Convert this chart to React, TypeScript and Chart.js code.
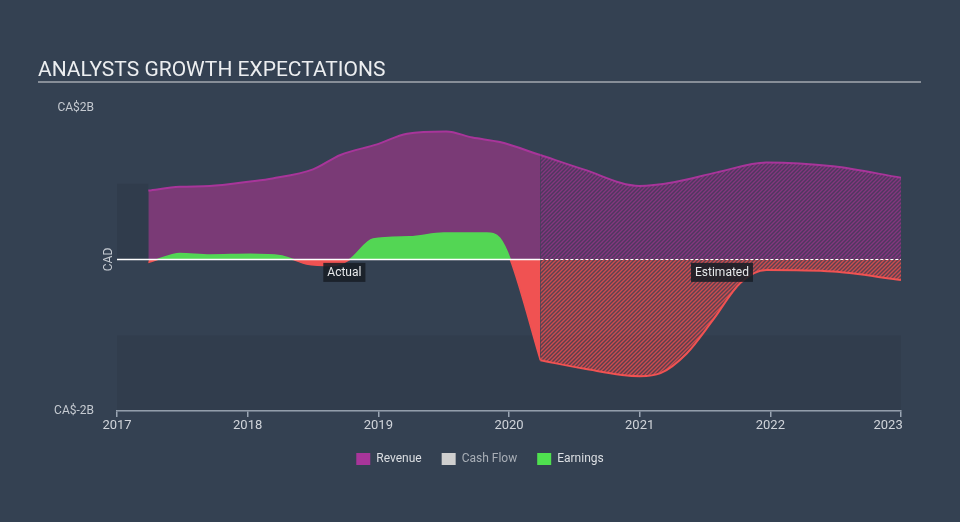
import React, { useEffect, useRef } from 'react';
import { Chart, registerables } from 'chart.js';

Chart.register(...registerables);

// ---- data (CAD billions, x = fractional year) ----
const revenueActualX = [2017.24, 2017.48, 2017.71, 2018.02, 2018.19, 2018.5, 2018.71, 2018.99, 2019.22, 2019.52, 2019.72, 2019.93, 2020.24];
const revenueActual = [0.91, 0.96, 0.97, 1.03, 1.07, 1.19, 1.38, 1.52, 1.66, 1.69, 1.61, 1.55, 1.38];
const revenueEstX = [2020.24, 2020.57, 2021.0, 2021.26, 2021.59, 2021.97, 2022.48, 2023.0];
const revenueEst = [1.38, 1.19, 0.97, 1.02, 1.15, 1.28, 1.23, 1.08];
const earningsActualX = [2017.24, 2017.31, 2017.48, 2017.71, 2018.02, 2018.25, 2018.35, 2018.45, 2018.65, 2018.78, 2018.96, 2019.24, 2019.5, 2019.83, 2019.93, 2020.01, 2020.24];
const earningsActual = [-0.04, 0, 0.08, 0.06, 0.07, 0.05, 0, -0.06, -0.08, 0, 0.27, 0.3, 0.35, 0.35, 0.28, 0, -1.33];
const earningsEstX = [2020.24, 2020.57, 2021.0, 2021.16, 2021.36, 2021.56, 2021.77, 2021.97, 2022.48, 2023.0];
const earningsEst = [-1.33, -1.44, -1.54, -1.5, -1.24, -0.8, -0.31, -0.14, -0.16, -0.27];
const xTicks = [2017, 2018, 2019, 2020, 2021, 2022, 2023];
const yTicks = [-2, 0, 2];
const forecastStart = 2020.24;
const periodLabels = [
  { text: 'Actual', x: 2018.74, y: -0.17 },
  { text: 'Estimated', x: 2021.63, y: -0.17 },
];
const legendItems = [
  { text: 'Revenue', color: '#a8359a', textColor: '#dcdfe3' },
  { text: 'Cash Flow', color: '#cfcfcf', textColor: '#a9afb7' },
  { text: 'Earnings', color: '#4fe04f', textColor: '#dcdfe3' },
];
const title = 'ANALYSTS GROWTH EXPECTATIONS';

const BG = '#344152';
const GREEN = '#53d654';
const RED = '#f05252';
const PURPLE_LINE = '#a8359a';
const PURPLE_FILL = '#7a3a76';

function makeHatch(ctx: CanvasRenderingContext2D, base: string, stripe: string) {
  const c = document.createElement('canvas');
  c.width = 4;
  c.height = 4;
  const g = c.getContext('2d')!;
  g.fillStyle = base;
  g.fillRect(0, 0, 4, 4);
  g.strokeStyle = stripe;
  g.lineWidth = 1.4;
  g.beginPath();
  g.moveTo(-1, 5); g.lineTo(5, -1);
  g.moveTo(-1, 1); g.lineTo(1, -1);
  g.moveTo(3, 5); g.lineTo(5, 3);
  g.stroke();
  return ctx.createPattern(c, 'repeat')!;
}

const pts = (xs: number[], ys: number[]) => xs.map((x, i) => ({ x, y: ys[i] }));

export default function App() {
  const ref = useRef<HTMLCanvasElement | null>(null);
  useEffect(() => {
    const canvas = ref.current!;
    const ctx = canvas.getContext('2d')!;
    Chart.defaults.font.family = 'Roboto, "Open Sans", sans-serif';
    const revHatch = makeHatch(ctx, 'rgba(100,50,105,0.55)', 'rgba(135,55,128,0.95)');
    const earnHatch = makeHatch(ctx, 'rgba(190,70,75,0.3)', 'rgba(225,78,80,0.85)');

    const bgPlugin = {
      id: 'bgPlugin',
      beforeDraw(chart: any) {
        const c = chart.ctx;
        c.save();
        c.fillStyle = BG;
        c.fillRect(0, 0, chart.width, chart.height);
        c.restore();
      },
      beforeDatasetsDraw(chart: any) {
        const c = chart.ctx;
        const xs = chart.scales.x;
        const ys = chart.scales.y;
        c.save();
        c.fillStyle = 'rgba(0,0,0,0.05)';
        const l = xs.getPixelForValue(2017), r = xs.getPixelForValue(2023);
        c.fillRect(l, ys.getPixelForValue(-1), r - l, ys.getPixelForValue(-2) - ys.getPixelForValue(-1));
        c.fillStyle = 'rgba(0,0,0,0.07)';
        const r2 = xs.getPixelForValue(revenueActualX[0]);
        c.fillRect(l, ys.getPixelForValue(1), r2 - l, ys.getPixelForValue(0) - ys.getPixelForValue(1));
        c.restore();
      },
      afterDraw(chart: any) {
        const c = chart.ctx;
        const xs = chart.scales.x;
        const ys = chart.scales.y;
        c.save();
        // title
        c.fillStyle = '#eceef0';
        c.font = '21px Roboto';
        c.textBaseline = 'alphabetic';
        c.textAlign = 'left';
        c.fillText(title, 38, 76);
        c.strokeStyle = '#a3a9b1';
        c.lineWidth = 1.5;
        c.beginPath();
        c.moveTo(38, 82);
        c.lineTo(921, 82);
        c.stroke();
        // CAD axis label
        c.save();
        c.translate(chart.chartArea.left - 8, ys.getPixelForValue(0));
        c.rotate(-Math.PI / 2);
        c.fillStyle = '#c5cad1';
        c.font = '12px Roboto';
        c.textAlign = 'center';
        c.textBaseline = 'middle';
        c.fillText('CAD', 0, 0);
        c.restore();
        // period labels
        c.font = '12px Roboto';
        c.textAlign = 'center';
        c.textBaseline = 'middle';
        periodLabels.forEach((p) => {
          const px = xs.getPixelForValue(p.x);
          const py = ys.getPixelForValue(p.y);
          const w = c.measureText(p.text).width + 8;
          c.fillStyle = 'rgba(24,30,38,0.88)';
          c.fillRect(px - w / 2, py - 9.5, w, 19);
          c.fillStyle = '#e6e8ea';
          c.fillText(p.text, px, py + 0.5);
        });
        c.restore();
      },
    };

    const chart = new Chart(ctx, {
      type: 'line',
      data: {
        datasets: [
          {
            label: 'zero-actual',
            data: pts([2017, forecastStart], [0, 0]),
            borderColor: '#ffffff',
            borderWidth: 1.6,
            pointRadius: 0,
            fill: false,
            order: 0,
          },
          {
            label: 'zero-est',
            data: pts([forecastStart, 2023], [0, 0]),
            borderColor: '#ffffff',
            borderWidth: 1,
            borderDash: [3, 2],
            pointRadius: 0,
            fill: false,
            order: 0,
          },
          {
            label: 'Earnings',
            data: pts(earningsActualX, earningsActual),
            borderColor: GREEN,
            borderWidth: 1.5,
            segment: {
              borderColor: (s: any) => (s.p0.parsed.y + s.p1.parsed.y) / 2 >= 0 ? GREEN : RED,
            },
            fill: { target: 'origin', above: GREEN, below: RED },
            backgroundColor: GREEN,
            pointRadius: 0,
            cubicInterpolationMode: 'monotone',
            order: 1,
          },
          {
            label: 'Earnings est',
            data: pts(earningsEstX, earningsEst),
            borderColor: RED,
            borderWidth: 2,
            fill: { target: 'origin' },
            backgroundColor: earnHatch,
            pointRadius: 0,
            cubicInterpolationMode: 'monotone',
            order: 1,
          },
          {
            label: 'Revenue',
            data: pts(revenueActualX, revenueActual),
            borderColor: PURPLE_LINE,
            borderWidth: 2,
            fill: { target: 'origin' },
            backgroundColor: PURPLE_FILL,
            pointRadius: 0,
            cubicInterpolationMode: 'monotone',
            order: 2,
          },
          {
            label: 'Revenue est',
            data: pts(revenueEstX, revenueEst),
            borderColor: PURPLE_LINE,
            borderWidth: 2,
            fill: { target: 'origin' },
            backgroundColor: revHatch,
            pointRadius: 0,
            cubicInterpolationMode: 'monotone',
            order: 2,
          },
        ] as any,
      },
      options: {
        animation: false,
        responsive: false,
        events: [],
        layout: { padding: { top: 108, bottom: 47, left: 0, right: 0 } },
        scales: {
          x: {
            type: 'linear',
            min: 2017,
            max: 2023,
            afterBuildTicks: (s: any) => { s.ticks = xTicks.map((v) => ({ value: v })); },
            afterFit: (s: any) => { s.height = 22; },
            ticks: {
              color: '#d0d4da',
              font: { size: 13 },
              padding: 1,
              maxRotation: 0,
              callback: (v: any) => (v === 2023 ? String(v) + '        ' : String(v)),
            },
            grid: { display: true, drawOnChartArea: false, drawTicks: true, tickLength: 6, color: '#9aa6b4', lineWidth: 1.5 },
            border: { display: true, color: '#9aa6b4', width: 1.5 },
          },
          y: {
            type: 'linear',
            min: -2,
            max: 2,
            afterBuildTicks: (s: any) => { s.ticks = yTicks.map((v) => ({ value: v })); },
            afterFit: (s: any) => { s.width = 117; },
            ticks: {
              color: '#c5cad1',
              font: { size: 12 },
              padding: 15,
              callback: (v: any) => (v === 0 ? '' : 'CA$' + v + 'B'),
            },
            grid: { display: false },
            border: { display: false },
          },
          y2: {
            type: 'linear',
            position: 'right',
            display: true,
            afterFit: (s: any) => { s.width = 59; },
            ticks: { display: false },
            grid: { display: false },
            border: { display: false },
          },
        },
        plugins: {
          tooltip: { enabled: false },
          title: { display: false },
          legend: {
            display: true,
            position: 'bottom',
            labels: {
              boxWidth: 14,
              boxHeight: 12,
              padding: 20,
              font: { size: 12 },
              generateLabels: () =>
                legendItems.map((it) => ({
                  text: it.text,
                  fillStyle: it.color,
                  strokeStyle: it.color,
                  lineWidth: 0,
                  fontColor: it.textColor,
                  hidden: false,
                })) as any,
            },
          },
        },
      } as any,
      plugins: [bgPlugin],
    });
    return () => chart.destroy();
  }, []);

  return (
    <div style={{ position: 'fixed', left: 0, top: 0, width: 960, height: 522, background: BG }}>
      <canvas ref={ref} width={960} height={522} style={{ display: 'block', width: 960, height: 522 }} />
    </div>
  );
}
